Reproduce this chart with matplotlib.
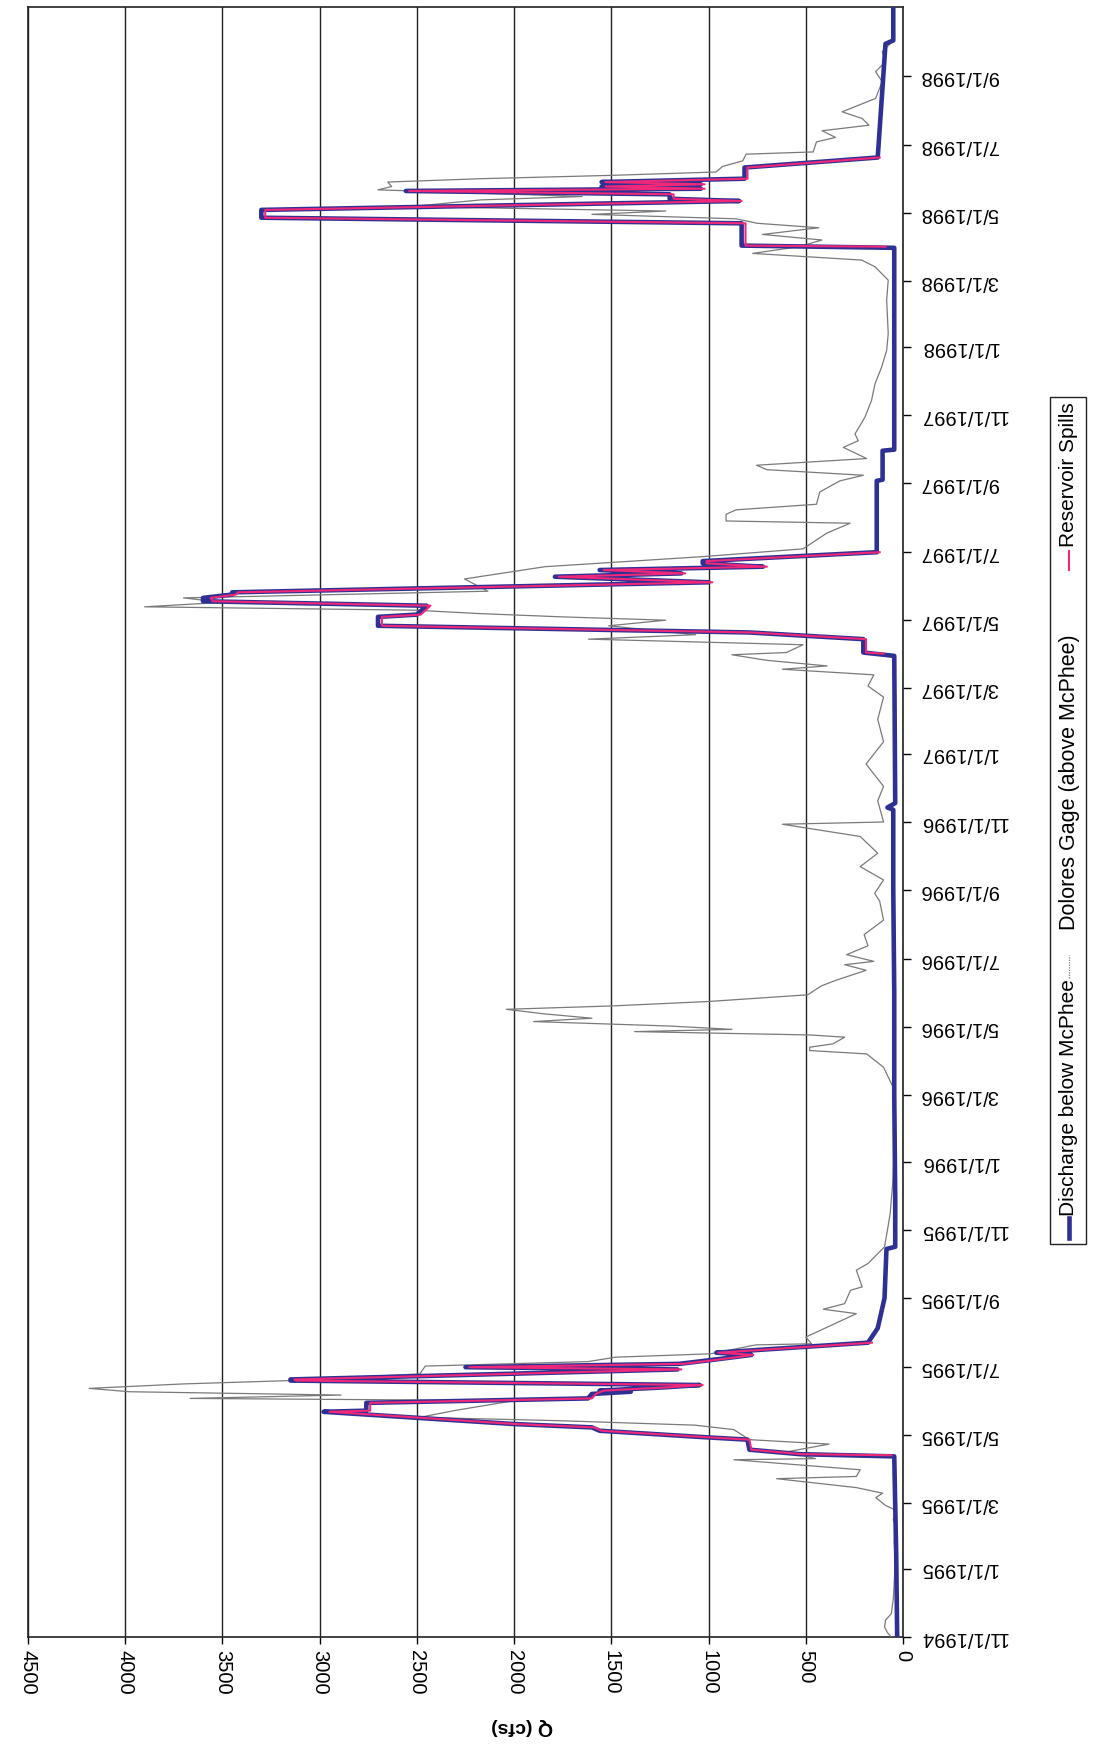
import matplotlib
matplotlib.use("Agg")
import matplotlib.pyplot as plt
import numpy as np
import pandas as pd
from matplotlib.lines import Line2D
from matplotlib.patches import Rectangle

plt.rcParams['font.family'] = ['Liberation Sans', 'DejaVu Sans']

# Discharge below McPhee (cfs)
discharge_dates = [
    "1994-11-01", "1995-01-15", "1995-04-12", "1995-04-14", "1995-04-18", "1995-04-27",
    "1995-04-29", "1995-05-05", "1995-05-08", "1995-05-11", "1995-05-22", "1995-05-23",
    "1995-05-30", "1995-06-03", "1995-06-07", "1995-06-09", "1995-06-10", "1995-06-13",
    "1995-06-15", "1995-06-19", "1995-06-20", "1995-06-29", "1995-07-01", "1995-07-04",
    "1995-07-08", "1995-07-12", "1995-07-14", "1995-07-23", "1995-08-05", "1995-09-01",
    "1995-10-15", "1995-10-17", "1995-12-01", "1996-03-01", "1996-06-01", "1996-09-01",
    "1996-11-12", "1996-11-14", "1996-11-18", "1997-03-30", "1997-04-02", "1997-04-14",
    "1997-04-20", "1997-04-26", "1997-05-04", "1997-05-06", "1997-05-14", "1997-05-18",
    "1997-05-21", "1997-05-24", "1997-05-26", "1997-06-04", "1997-06-09", "1997-06-12",
    "1997-06-15", "1997-06-18", "1997-06-21", "1997-06-23", "1997-07-01", "1997-09-03",
    "1997-09-04", "1997-09-30", "1997-10-01", "1998-03-31", "1998-04-02", "1998-04-22",
    "1998-04-27", "1998-05-04", "1998-05-12", "1998-05-14", "1998-05-18", "1998-05-21",
    "1998-05-23", "1998-05-25", "1998-05-27", "1998-05-29", "1998-06-01", "1998-06-11",
    "1998-06-20", "1998-09-30", "1998-10-03", "1998-11-02",
]
discharge_q = [
    30, 35, 45, 530, 790, 800,
    1000, 1560, 1600, 2000, 2980, 2760,
    2760, 1620, 1600, 1400, 1560, 1220,
    1045, 3150, 3150, 1160, 2250, 1150,
    960, 780, 960, 180, 130, 95,
    85, 40, 40, 45, 45, 50,
    50, 80, 40, 45, 204, 204,
    790, 2700, 2700, 2500, 2450, 3600,
    3600, 3450, 3450, 1000, 1790, 1140,
    1560, 720, 1030, 1030, 135, 135,
    105, 105, 45, 45, 830, 830,
    3300, 3300, 842, 1200, 1200, 2557,
    1040, 1550, 1040, 1550, 815, 815,
    130, 90, 50, 50,
]

# Reservoir spills (cfs); None breaks between spill seasons
spill_dates = [
    "1995-04-13", "1995-04-14", "1995-04-18", "1995-04-27", "1995-04-29", "1995-05-05",
    "1995-05-08", "1995-05-11", "1995-05-22", "1995-05-23", "1995-05-30", "1995-06-03",
    "1995-06-07", "1995-06-10", "1995-06-13", "1995-06-15", "1995-06-19", "1995-06-20",
    "1995-06-29", "1995-07-01", "1995-07-04", "1995-07-08", "1995-07-12", "1995-07-14",
    "1995-07-23", "1995-07-24",
    "1997-04-01", "1997-04-02", "1997-04-14", "1997-04-20", "1997-04-26", "1997-05-04",
    "1997-05-06", "1997-05-14", "1997-05-18", "1997-05-21", "1997-05-24", "1997-05-26",
    "1997-06-04", "1997-06-09", "1997-06-12", "1997-06-15", "1997-06-18", "1997-06-21",
    "1997-06-23", "1997-07-01", "1997-07-02",
    "1998-04-01", "1998-04-02", "1998-04-22", "1998-04-27", "1998-05-04", "1998-05-12",
    "1998-05-14", "1998-05-18", "1998-05-21", "1998-05-23", "1998-05-25", "1998-05-27",
    "1998-05-29", "1998-06-01", "1998-06-11", "1998-06-20",
]
spill_q = [
    60, 520, 780, 790, 990, 1550,
    1590, 1990, 2950, 2740, 2740, 1600,
    1580, 1540, 1200, 1030, 3120, 3130,
    1140, 2230, 1130, 940, 770, 950,
    160, None,
    100, 190, 190, 780, 2680, 2680,
    2480, 2430, 3550, 3560, 3430, 3420,
    980, 1770, 1120, 1540, 700, 1010,
    1010, 120, None,
    90, 810, 810, 3280, 3280, 830,
    1180, 1180, 2540, 1020, 1530, 1020,
    1530, 800, 800, 120,
]

# Dolores gage above McPhee (cfs)
gage_dates = [
    "1994-11-01", "1994-11-05", "1994-11-10", "1994-11-16", "1994-11-22", "1994-12-05",
    "1994-12-20", "1995-01-10", "1995-01-25", "1995-02-10", "1995-02-14", "1995-02-23",
    "1995-02-27", "1995-03-06", "1995-03-10", "1995-03-15", "1995-03-23", "1995-03-25",
    "1995-03-31", "1995-04-09", "1995-04-10", "1995-04-16", "1995-04-23", "1995-04-27",
    "1995-05-06", "1995-05-10", "1995-05-14", "1995-05-17", "1995-05-23", "1995-06-01",
    "1995-06-03", "1995-06-06", "1995-06-09", "1995-06-12", "1995-06-16", "1995-06-19",
    "1995-06-25", "1995-07-02", "1995-07-06", "1995-07-10", "1995-07-13", "1995-07-21",
    "1995-07-22", "1995-07-28", "1995-08-18", "1995-08-22", "1995-08-27", "1995-09-08",
    "1995-09-11", "1995-09-26", "1995-10-02", "1995-10-17", "1995-11-01", "1995-11-16",
    "1995-12-15", "1996-01-15", "1996-02-15", "1996-03-08", "1996-03-14", "1996-03-26",
    "1996-04-07", "1996-04-10", "1996-04-13", "1996-04-16", "1996-04-22", "1996-04-24",
    "1996-04-27", "1996-04-29", "1996-05-02", "1996-05-06", "1996-05-09", "1996-05-13",
    "1996-05-17", "1996-05-20", "1996-05-24", "1996-05-30", "1996-06-07", "1996-06-12",
    "1996-06-21", "1996-06-26", "1996-06-29", "1996-07-05", "1996-07-13", "1996-07-23",
    "1996-08-05", "1996-08-22", "1996-08-29", "1996-09-10", "1996-09-22", "1996-10-04",
    "1996-10-19", "1996-10-30", "1996-11-01", "1996-11-20", "1996-12-03", "1996-12-23",
    "1997-01-12", "1997-02-01", "1997-02-21", "1997-03-03", "1997-03-13", "1997-03-18",
    "1997-03-21", "1997-03-26", "1997-03-31", "1997-04-02", "1997-04-09", "1997-04-14",
    "1997-04-18", "1997-04-26", "1997-05-01", "1997-05-04", "1997-05-07", "1997-05-10",
    "1997-05-13", "1997-05-17", "1997-05-21", "1997-05-27", "1997-06-07", "1997-06-18",
    "1997-06-27", "1997-07-04", "1997-07-18", "1997-07-27", "1997-07-29", "1997-08-04",
    "1997-08-08", "1997-08-13", "1997-08-24", "1997-09-03", "1997-09-08", "1997-09-13",
    "1997-09-17", "1997-09-23", "1997-10-03", "1997-10-09", "1997-10-15", "1997-10-30",
    "1997-11-14", "1997-11-29", "1997-12-14", "1997-12-29", "1998-01-13", "1998-02-12",
    "1998-03-02", "1998-03-14", "1998-03-20", "1998-03-26", "1998-04-01", "1998-04-07",
    "1998-04-12", "1998-04-18", "1998-04-22", "1998-04-26", "1998-04-30", "1998-05-03",
    "1998-05-07", "1998-05-13", "1998-05-16", "1998-05-22", "1998-05-25", "1998-05-29",
    "1998-06-01", "1998-06-04", "1998-06-07", "1998-06-12", "1998-06-17", "1998-06-23",
    "1998-06-25", "1998-07-04", "1998-07-08", "1998-07-14", "1998-07-19", "1998-07-25",
    "1998-07-31", "1998-08-12", "1998-08-27", "1998-09-05", "1998-09-14", "1998-09-23",
    "1998-10-01",
]
gage_q = [
    60, 80, 95, 90, 60, 50,
    45, 40, 45, 40, 50, 40,
    90, 140, 105, 240, 650, 240,
    220, 870, 450, 600, 380, 790,
    870, 1070, 1765, 2485, 2310, 2000,
    3666, 2890, 3980, 4185, 3700, 3150,
    2485, 2457, 1620, 1477, 990, 757,
    470, 500, 240, 410, 300, 270,
    210, 240, 180, 95, 80, 66,
    52, 45, 45, 50, 67, 100,
    187, 480, 480, 360, 300, 480,
    1380, 880, 1200, 1900, 1600, 1850,
    2040, 1500, 1000, 490, 420, 345,
    190, 300, 150, 290, 180, 200,
    100, 120, 146, 100, 220, 130,
    220, 620, 100, 130, 100, 190,
    100, 130, 100, 180, 150, 620,
    390, 700, 880, 600, 514, 1617,
    1066, 1514, 1220, 1755, 2186, 2514,
    3900, 3500, 3700, 2135, 2255, 1841,
    1031, 514, 393, 272, 910, 910,
    858, 445, 428, 324, 204, 700,
    753, 187, 307, 230, 247, 196,
    162, 144, 110, 84, 76, 84,
    76, 144, 213, 773, 536, 417,
    723, 433, 749, 859, 1600, 1220,
    2530, 2170, 1650, 2700, 2630, 2650,
    2170, 1497, 962, 928, 824, 807,
    462, 445, 347, 416, 175, 210,
    313, 141, 107, 141, 90, 107,
    60,
]

tick_labels = [
    "11/1/1994", "1/1/1995", "3/1/1995", "5/1/1995", "7/1/1995", "9/1/1995",
    "11/1/1995", "1/1/1996", "3/1/1996", "5/1/1996", "7/1/1996", "9/1/1996",
    "11/1/1996", "1/1/1997", "3/1/1997", "5/1/1997", "7/1/1997", "9/1/1997",
    "11/1/1997", "1/1/1998", "3/1/1998", "5/1/1998", "7/1/1998", "9/1/1998",
]
q_ticks = [0, 500, 1000, 1500, 2000, 2500, 3000, 3500, 4000, 4500]

W, H = 1094, 1753
fig = plt.figure(figsize=(W / 100, H / 100), dpi=100)
ax = fig.add_axes([28 / W, 1 - 1637 / H, (903 - 28) / W, (1637 - 7) / H])

# chart is shown turned on its side: Q runs right-to-left, time runs upward
d_dates = pd.to_datetime(discharge_dates)
s_dates = pd.to_datetime(spill_dates)
g_dates = pd.to_datetime(gage_dates)
s_vals = np.array([np.nan if v is None else v for v in spill_q], dtype=float)

gray = "#7a7a7a"
blue = "#2e3192"
pink = "#f0287a"

ax.plot(gage_q, g_dates, color=gray, lw=0.9, zorder=3)
ax.plot(discharge_q, d_dates, color=blue, lw=3.3, zorder=4)
ax.plot(s_vals, s_dates, color=pink, lw=1.5, zorder=5)

ax.set_xlim(4500, 0)
ax.set_ylim(pd.Timestamp("1994-11-01"), pd.Timestamp("1998-11-02"))

ax.set_xticks(q_ticks)
ax.set_xticklabels([str(v) for v in q_ticks], rotation=-90, fontsize=14.5)
ax.tick_params(axis="x", length=5, width=1, pad=4, direction="out")

tick_pos = pd.to_datetime(tick_labels, format="%m/%d/%Y")
ax.yaxis.tick_right()
ax.set_yticks(tick_pos)
ax.set_yticklabels(tick_labels, rotation=180, ha="left", va="center", fontsize=14.5)
ax.tick_params(axis="y", length=6, width=1, pad=6, direction="out")

ax.grid(axis="x", color="#222222", lw=1.0, zorder=1)
for sp in ax.spines.values():
    sp.set_color("#222222")
    sp.set_linewidth(1.2)

fig.text(522 / W, 1 - 1727 / H, "Q (cfs)", rotation=180, fontweight="bold",
         fontsize=14, ha="center", va="center")

# legend, drawn turned like the rest of the chart
lx = 1069 / W
fig.add_artist(Rectangle((1050 / W, 1 - 1244 / H), 36 / W, (1244 - 397) / H,
                         transform=fig.transFigure, facecolor="white",
                         edgecolor="#222222", lw=1.0))
fig.add_artist(Line2D([lx, lx], [1 - 1238 / H, 1 - 1218 / H], color=blue, lw=3.3))
fig.text(lx, 1 - 1098 / H, "Discharge below McPhee", rotation=90, fontsize=15,
         ha="center", va="center")
fig.add_artist(Line2D([lx, lx], [1 - 978 / H, 1 - 955 / H], color=gray, lw=0.9,
                      ls=(0, (1, 1))))
fig.text(lx, 1 - 782 / H, "Dolores Gage (above McPhee)", rotation=90, fontsize=15.5,
         ha="center", va="center")
fig.add_artist(Line2D([lx, lx], [1 - 570 / H, 1 - 551 / H], color=pink, lw=1.5))
fig.text(lx, 1 - 475 / H, "Reservoir Spills", rotation=90, fontsize=15,
         ha="center", va="center")

fig.savefig("out.png", dpi=100, facecolor="white")
